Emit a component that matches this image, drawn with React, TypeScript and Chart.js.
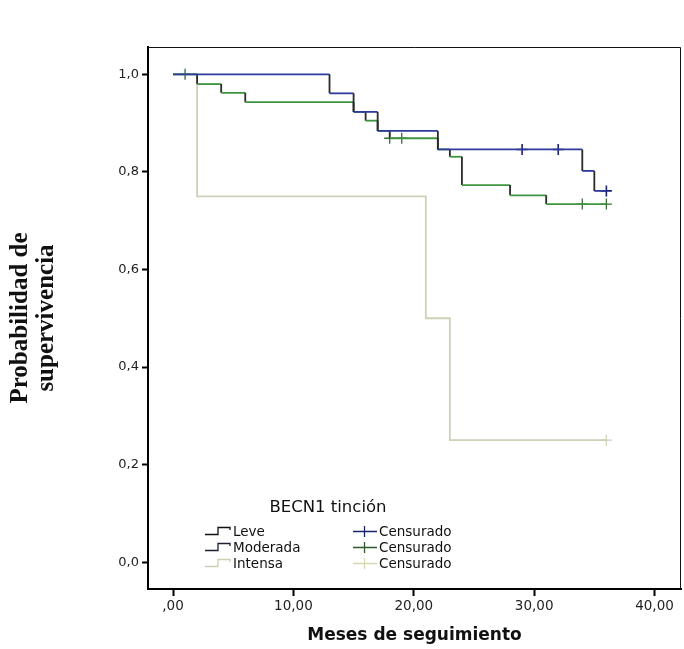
import { useEffect, useRef } from "react";
import { Chart, registerables } from "chart.js";

Chart.register(...registerables);

// ---- Data (Kaplan-Meier steps) ----
const leveTimes = [0, 13, 15, 17, 22, 34, 35];
const leveSurv = [1.0, 0.961, 0.923, 0.884, 0.846, 0.802, 0.761];
const leveEnd = 36;
const leveCensored = [29, 32, 36];

const moderadaTimes = [0, 2, 4, 6, 15, 16, 17, 18, 22, 23, 24, 28, 31];
const moderadaSurv = [1.0, 0.98, 0.962, 0.943, 0.923, 0.905, 0.884, 0.869, 0.846, 0.831, 0.773, 0.752, 0.734];
const moderadaEnd = 36;
const moderadaCensored = [1, 18, 19, 34, 36];

const intensaTimes = [0, 2, 21, 23];
const intensaSurv = [1.0, 0.75, 0.5, 0.25];
const intensaEnd = 36;
const intensaCensored = [36];

const groupLabels = ["Leve", "Moderada", "Intensa"];
const censorLabel = "Censurado";
const legendTitle = "BECN1 tinción";
const xTickValues = [0, 10, 20, 30, 40];
const yTickValues = [0, 0.2, 0.4, 0.6, 0.8, 1.0];
const xTitle = "Meses de seguimiento";
const yTitle = ["Probabilidad de", "supervivencia"];

const COLORS = {
  leve: "#2b3c9e",
  moderada: "#3f9440",
  intensa: "#d0d0b8",
  vertical: "#2a2a2a",
};

function stepPoints(times: number[], surv: number[], end: number) {
  const pts: { x: number; y: number }[] = [{ x: times[0], y: surv[0] }];
  for (let i = 1; i < times.length; i++) {
    pts.push({ x: times[i], y: surv[i - 1] });
    pts.push({ x: times[i], y: surv[i] });
  }
  pts.push({ x: end, y: surv[surv.length - 1] });
  return pts;
}

function survAt(times: number[], surv: number[], t: number) {
  let v = surv[0];
  for (let i = 0; i < times.length; i++) if (times[i] <= t) v = surv[i];
  return v;
}

function censorPoints(times: number[], surv: number[], cens: number[]) {
  return cens.map((t) => ({ x: t, y: survAt(times, surv, t) }));
}

const FONT = "'DejaVu Sans', sans-serif";

const legendPlugin = {
  id: "kmLegend",
  afterDatasetsDraw(chart: any) {
    const ctx = chart.ctx as CanvasRenderingContext2D;
    const a = chart.chartArea;
    ctx.save();
    // top & right frame
    ctx.strokeStyle = "#111";
    ctx.lineWidth = 1;
    ctx.beginPath();
    ctx.moveTo(a.left, a.top + 0.5);
    ctx.lineTo(a.right - 0.5, a.top + 0.5);
    ctx.lineTo(a.right - 0.5, a.bottom);
    ctx.stroke();

    // legend
    const ox = a.left;
    const oy = a.top;
    ctx.fillStyle = "#111";
    ctx.font = `16.5px ${FONT}`;
    ctx.textAlign = "center";
    ctx.textBaseline = "middle";
    ctx.fillText(legendTitle, ox + 180, oy + 461);

    const rows = [oy + 484, oy + 500, oy + 516];
    const lineCols = ["#111111", "#1d2233", "#cfcfb4"];
    const censCols = ["#1a2370", "#2e5a2e", "#d8d8b0"];
    ctx.font = `13.5px ${FONT}`;
    ctx.textAlign = "left";
    rows.forEach((y, i) => {
      // step icon
      ctx.strokeStyle = lineCols[i];
      ctx.lineWidth = 1.3;
      ctx.beginPath();
      ctx.moveTo(ox + 57, y + 3.5);
      ctx.lineTo(ox + 70, y + 3.5);
      ctx.lineTo(ox + 70, y - 3.5);
      ctx.lineTo(ox + 82, y - 3.5);
      ctx.lineTo(ox + 82, y - 1);
      ctx.stroke();
      ctx.fillStyle = "#111";
      ctx.fillText(groupLabels[i], ox + 85, y + 1);
      // censor icon
      ctx.strokeStyle = censCols[i];
      ctx.beginPath();
      ctx.moveTo(ox + 205, y + 0.5);
      ctx.lineTo(ox + 229, y + 0.5);
      ctx.moveTo(ox + 216.5, y - 5);
      ctx.lineTo(ox + 216.5, y + 6);
      ctx.stroke();
      ctx.fillText(censorLabel, ox + 231, y + 1);
    });
    ctx.restore();
  },
};

function lineDataset(label: string, times: number[], surv: number[], end: number, color: string, vColor: string) {
  return {
    type: "scatter" as const,
    label,
    data: stepPoints(times, surv, end),
    showLine: true,
    borderColor: color,
    borderWidth: 1.8,
    pointRadius: 0,
    pointHoverRadius: 0,
    tension: 0,
    segment: {
      borderColor: (c: any) => (c.p0.parsed.x === c.p1.parsed.x ? vColor : color),
    },
  };
}

function censorDataset(label: string, pts: { x: number; y: number }[], color: string, width: number) {
  return {
    type: "scatter" as const,
    label,
    data: pts,
    showLine: false,
    pointStyle: "cross",
    pointRadius: 5.5,
    pointBorderColor: color,
    pointBorderWidth: width,
    borderColor: color,
    backgroundColor: color,
  };
}

export default function App() {
  const ref = useRef<HTMLCanvasElement | null>(null);
  useEffect(() => {
    if (!ref.current) return;
    const chart = new Chart(ref.current, {
      type: "scatter",
      data: {
        datasets: [
          lineDataset(groupLabels[0], leveTimes, leveSurv, leveEnd, COLORS.leve, COLORS.vertical),
          censorDataset(censorLabel, censorPoints(leveTimes, leveSurv, leveCensored), "#1a2370", 1.6),
          lineDataset(groupLabels[1], moderadaTimes, moderadaSurv, moderadaEnd, COLORS.moderada, COLORS.vertical),
          censorDataset(censorLabel, censorPoints(moderadaTimes, moderadaSurv, moderadaCensored), "#3a6a3a", 1.3),
          lineDataset(groupLabels[2], intensaTimes, intensaSurv, intensaEnd, COLORS.intensa, COLORS.intensa),
          censorDataset(censorLabel, censorPoints(intensaTimes, intensaSurv, intensaCensored), "#d0d0b0", 1.2),
        ] as any,
      },
      options: {
        animation: false,
        responsive: false,
        maintainAspectRatio: false,
        layout: { autoPadding: false, padding: { top: 47, right: 3, left: 0, bottom: 0 } },
        plugins: { legend: { display: false }, tooltip: { enabled: false } },
        scales: {
          x: {
            type: "linear",
            min: -2.08,
            max: 42.2,
            afterBuildTicks: (s: any) => {
              s.ticks = xTickValues.map((v) => ({ value: v }));
            },
            afterFit: (s: any) => {
              s.height = 60;
              s.paddingLeft = 0;
              s.paddingRight = 0;
            },
            ticks: {
              color: "#222",
              font: { family: FONT, size: 13.5 },
              padding: 2,
              autoSkip: false,
              maxRotation: 0,
              callback: (v: any) => {
                const s = Number(v).toFixed(2).replace(".", ",");
                return s.startsWith("0,") ? s.slice(1) : s;
              },
            },
            grid: {
              drawOnChartArea: false,
              drawTicks: true,
              tickLength: 7,
              tickColor: "#000",
              tickWidth: 2,
              color: "#000",
            },
            border: { display: true, color: "#000", width: 2 },
            title: {
              display: true,
              text: xTitle,
              color: "#111",
              font: { family: FONT, size: 17, weight: "bold" },
              padding: { top: 0, bottom: 3 },
            },
          },
          y: {
            type: "linear",
            min: -0.055,
            max: 1.056,
            afterBuildTicks: (s: any) => {
              s.ticks = yTickValues.map((v) => ({ value: v }));
            },
            afterFit: (s: any) => {
              s.width = 148;
              s.paddingTop = 0;
              s.paddingBottom = 0;
            },
            ticks: {
              color: "#222",
              font: { family: FONT, size: 13 },
              padding: 3,
              callback: (v: any) => Number(v).toFixed(1).replace(".", ","),
            },
            grid: {
              drawOnChartArea: false,
              drawTicks: true,
              tickLength: 6,
              tickColor: "#000",
              tickWidth: 2,
              color: "#000",
            },
            border: { display: true, color: "#000", width: 2 },
            title: {
              display: true,
              text: yTitle,
              color: "#111",
              font: { family: "'Liberation Serif', serif", size: 25, weight: "bold", lineHeight: 1.04 },
              padding: { top: 8, bottom: 0 },
            },
          },
        },
      } as any,
      plugins: [legendPlugin],
    });
    return () => chart.destroy();
  }, []);
  return (
    <div style={{ position: "absolute", left: 0, top: 0, width: 684, height: 649, background: "#fff" }}>
      <canvas ref={ref} width={684} height={649} style={{ width: 684, height: 649, display: "block" }} />
    </div>
  );
}
